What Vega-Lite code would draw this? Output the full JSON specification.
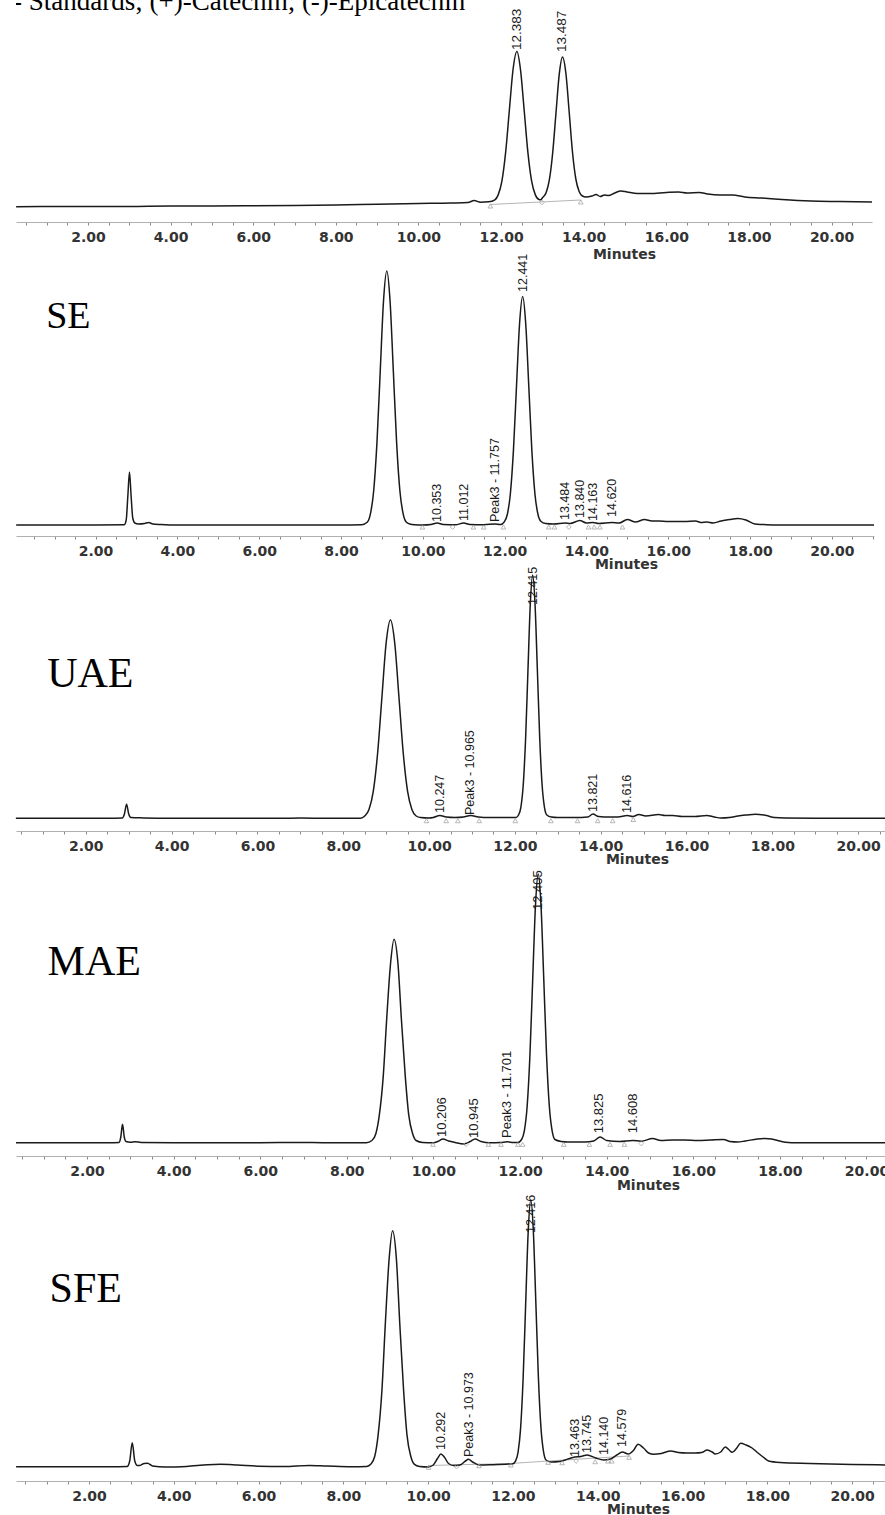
{
"$schema": "https://vega.github.io/schema/vega-lite/v6.json",
"padding": {"left": 12, "top": 0, "right": 0, "bottom": 0},
"background": "white",
"config": {"view": {"stroke": null}, "axisX": {"labelExpr": "datum.value % 2 === 0 ? format(datum.value, '.2f') : ''", "labelOverlap": false, "labelFlush": false, "grid": false, "domainColor": "#b0b0b0", "tickColor": "#8a8a8a", "tickSize": 3, "labelPadding": 5, "labelFont": "DejaVu Sans", "labelFontSize": 14, "labelFontWeight": "bold", "labelColor": "#333", "titleFont": "DejaVu Sans", "titleFontSize": 14, "titleFontWeight": "bold", "titleColor": "#333", "titleBaseline": "middle"}},
"spacing": 0,
"bounds": "flush",
"datasets": {
"p1": [{"t":0.26,"v":15.3},{"t":1.5,"v":15.5},{"t":3,"v":15.6},{"t":4,"v":16},{"t":5,"v":16},{"t":6,"v":16.2},{"t":7,"v":16.5},{"t":8,"v":17},{"t":9,"v":17.8},{"t":10,"v":18.5},{"t":10.8,"v":19},{"t":11.2,"v":19.5},{"t":11.35,"v":21.5},{"t":11.5,"v":19.8},{"t":11.7,"v":20.2},{"t":11.85,"v":22.2},{"t":11.93,"v":27.1},{"t":12.02,"v":40.8},{"t":12.11,"v":69.3},{"t":12.2,"v":111.5},{"t":12.29,"v":152.5},{"t":12.383,"v":170.5},{"t":12.47,"v":152.5},{"t":12.56,"v":111.5},{"t":12.65,"v":69.3},{"t":12.74,"v":40.8},{"t":12.83,"v":27.1},{"t":12.92,"v":22.5},{"t":12.96,"v":22.3},{"t":13.01,"v":24.6},{"t":13.09,"v":29.3},{"t":13.17,"v":42.3},{"t":13.25,"v":69.3},{"t":13.33,"v":109.3},{"t":13.41,"v":148.3},{"t":13.487,"v":165},{"t":13.57,"v":148.5},{"t":13.65,"v":109.5},{"t":13.73,"v":69.5},{"t":13.81,"v":43},{"t":13.89,"v":30.5},{"t":13.97,"v":26},{"t":14.05,"v":25},{"t":14.2,"v":26},{"t":14.3,"v":27.5},{"t":14.4,"v":25.5},{"t":14.5,"v":27},{"t":14.6,"v":26.5},{"t":14.75,"v":29},{"t":14.9,"v":31},{"t":15.05,"v":30},{"t":15.3,"v":28.5},{"t":15.6,"v":28.5},{"t":16,"v":29.5},{"t":16.3,"v":30},{"t":16.5,"v":29},{"t":16.8,"v":29.5},{"t":17,"v":28},{"t":17.3,"v":27},{"t":17.6,"v":27},{"t":17.9,"v":25},{"t":18.3,"v":24},{"t":18.8,"v":22.5},{"t":19.5,"v":21},{"t":20.2,"v":20.5},{"t":20.98,"v":20}],
"p2": [{"t":0.06,"v":11},{"t":1,"v":11},{"t":2,"v":11},{"t":2.7,"v":11.2},{"t":2.75,"v":16},{"t":2.79,"v":40},{"t":2.83,"v":64},{"t":2.87,"v":40},{"t":2.91,"v":18},{"t":2.96,"v":13},{"t":3.05,"v":12},{"t":3.2,"v":12.5},{"t":3.3,"v":13.5},{"t":3.4,"v":12},{"t":3.6,"v":11.5},{"t":4,"v":11},{"t":5,"v":11},{"t":6,"v":11},{"t":7,"v":11},{"t":8,"v":11},{"t":8.5,"v":11.2},{"t":8.64,"v":13.8},{"t":8.72,"v":22.2},{"t":8.8,"v":45.3},{"t":8.88,"v":93.6},{"t":8.96,"v":165},{"t":9.04,"v":235},{"t":9.12,"v":265},{"t":9.2,"v":235},{"t":9.28,"v":165},{"t":9.36,"v":93.6},{"t":9.44,"v":45.3},{"t":9.52,"v":22.2},{"t":9.6,"v":13.8},{"t":9.7,"v":11.8},{"t":9.8,"v":11.3},{"t":10,"v":11},{"t":10.2,"v":11.5},{"t":10.35,"v":13},{"t":10.5,"v":11.5},{"t":10.8,"v":11.2},{"t":11,"v":13},{"t":11.15,"v":11.5},{"t":11.5,"v":11.3},{"t":11.76,"v":12},{"t":11.9,"v":11.5},{"t":11.99,"v":14},{"t":12.066,"v":21.5},{"t":12.141,"v":42.3},{"t":12.216,"v":85.6},{"t":12.291,"v":150},{"t":12.366,"v":212.5},{"t":12.441,"v":239.5},{"t":12.516,"v":212.5},{"t":12.591,"v":150},{"t":12.666,"v":85.6},{"t":12.741,"v":42.3},{"t":12.816,"v":21.5},{"t":12.891,"v":14.5},{"t":13,"v":12.5},{"t":13.2,"v":12},{"t":13.48,"v":13},{"t":13.6,"v":12.5},{"t":13.84,"v":15.5},{"t":14,"v":13},{"t":14.16,"v":13.5},{"t":14.3,"v":12.5},{"t":14.62,"v":13.5},{"t":14.8,"v":13},{"t":15,"v":16.5},{"t":15.2,"v":14},{"t":15.42,"v":16.5},{"t":15.6,"v":15},{"t":15.77,"v":15},{"t":16,"v":14.5},{"t":16.4,"v":14.5},{"t":16.67,"v":15},{"t":16.8,"v":13.5},{"t":16.94,"v":14},{"t":17.1,"v":13},{"t":17.29,"v":15},{"t":17.5,"v":16.5},{"t":17.7,"v":17.5},{"t":17.9,"v":16},{"t":18.12,"v":12},{"t":18.3,"v":11.5},{"t":18.6,"v":11},{"t":19.5,"v":11},{"t":21.03,"v":11}],
"p3": [{"t":0.37,"v":12.7},{"t":1.5,"v":12.7},{"t":2.5,"v":12.7},{"t":2.85,"v":13},{"t":2.9,"v":17},{"t":2.95,"v":26.7},{"t":3,"v":17},{"t":3.05,"v":13.5},{"t":3.2,"v":13.3},{"t":3.35,"v":13},{"t":4,"v":12.7},{"t":5,"v":12.7},{"t":6,"v":12.7},{"t":7,"v":12.9},{"t":7.5,"v":12.8},{"t":8,"v":12.7},{"t":8.4,"v":12.8},{"t":8.5,"v":15},{"t":8.6,"v":21.5},{"t":8.7,"v":39.6},{"t":8.8,"v":77.2},{"t":8.9,"v":133},{"t":9,"v":188},{"t":9.1,"v":211},{"t":9.2,"v":188},{"t":9.3,"v":133},{"t":9.4,"v":77.2},{"t":9.5,"v":39.6},{"t":9.6,"v":21.5},{"t":9.7,"v":15},{"t":9.8,"v":13.5},{"t":10,"v":13},{"t":10.1,"v":13.5},{"t":10.25,"v":15.5},{"t":10.4,"v":14},{"t":10.6,"v":13.5},{"t":10.8,"v":14},{"t":10.97,"v":15.5},{"t":11.15,"v":14},{"t":11.4,"v":13.5},{"t":11.8,"v":13.5},{"t":12.03,"v":13.6},{"t":12.085,"v":16},{"t":12.14,"v":23.7},{"t":12.195,"v":46},{"t":12.25,"v":92},{"t":12.305,"v":160.5},{"t":12.36,"v":227},{"t":12.415,"v":256},{"t":12.47,"v":227},{"t":12.525,"v":160.5},{"t":12.58,"v":92},{"t":12.635,"v":46},{"t":12.69,"v":23.7},{"t":12.745,"v":16},{"t":12.85,"v":14},{"t":13,"v":13.5},{"t":13.4,"v":13.5},{"t":13.7,"v":14},{"t":13.82,"v":17},{"t":13.95,"v":14.5},{"t":14.2,"v":14},{"t":14.4,"v":14},{"t":14.62,"v":15.5},{"t":14.75,"v":14.5},{"t":14.89,"v":16.5},{"t":15.05,"v":15},{"t":15.35,"v":16.5},{"t":15.5,"v":15.5},{"t":15.68,"v":15.5},{"t":15.9,"v":14.5},{"t":16.2,"v":14.5},{"t":16.47,"v":15.5},{"t":16.65,"v":14},{"t":16.8,"v":13},{"t":17,"v":13.5},{"t":17.2,"v":15},{"t":17.4,"v":16},{"t":17.6,"v":16.8},{"t":17.86,"v":15.5},{"t":18.05,"v":13.5},{"t":18.3,"v":13},{"t":19,"v":12.8},{"t":20.72,"v":12.8}],
"p4": [{"t":0.36,"v":13.3},{"t":1.5,"v":13.3},{"t":2.5,"v":13.3},{"t":2.74,"v":13.6},{"t":2.78,"v":19},{"t":2.82,"v":31.7},{"t":2.86,"v":19},{"t":2.9,"v":14.5},{"t":3,"v":13.8},{"t":3.11,"v":14.3},{"t":3.25,"v":13.5},{"t":4,"v":13.3},{"t":5,"v":13.3},{"t":6,"v":13.3},{"t":6.9,"v":13.6},{"t":7.5,"v":13.3},{"t":8.45,"v":13.3},{"t":8.58,"v":15.5},{"t":8.67,"v":22.3},{"t":8.75,"v":40.8},{"t":8.84,"v":79.4},{"t":8.92,"v":136.8},{"t":9.01,"v":192.7},{"t":9.09,"v":216.7},{"t":9.18,"v":192.7},{"t":9.26,"v":136.8},{"t":9.35,"v":79.4},{"t":9.43,"v":40.8},{"t":9.52,"v":22.3},{"t":9.6,"v":15.5},{"t":9.75,"v":13.6},{"t":10,"v":13.3},{"t":10.1,"v":14.5},{"t":10.22,"v":17},{"t":10.35,"v":15},{"t":10.5,"v":13.5},{"t":10.7,"v":12},{"t":10.85,"v":14.5},{"t":10.96,"v":17},{"t":11.1,"v":14.5},{"t":11.3,"v":13.3},{"t":11.55,"v":13.5},{"t":11.7,"v":14.2},{"t":11.85,"v":13.5},{"t":11.95,"v":13.5},{"t":12.036,"v":16.5},{"t":12.1,"v":25.3},{"t":12.164,"v":49.7},{"t":12.228,"v":100.8},{"t":12.292,"v":176.5},{"t":12.356,"v":250.3},{"t":12.42,"v":282},{"t":12.484,"v":250.3},{"t":12.548,"v":176.5},{"t":12.612,"v":100.8},{"t":12.676,"v":49.7},{"t":12.74,"v":25.3},{"t":12.804,"v":16.5},{"t":12.95,"v":14.5},{"t":13.1,"v":14},{"t":13.5,"v":14},{"t":13.7,"v":15},{"t":13.85,"v":19},{"t":14,"v":15.5},{"t":14.3,"v":14.5},{"t":14.6,"v":15.5},{"t":14.8,"v":14.8},{"t":15.06,"v":17.5},{"t":15.25,"v":15.5},{"t":15.52,"v":16},{"t":15.8,"v":16},{"t":16.1,"v":15.5},{"t":16.4,"v":16},{"t":16.7,"v":16.5},{"t":16.85,"v":14.5},{"t":17.02,"v":14},{"t":17.2,"v":15},{"t":17.48,"v":17},{"t":17.65,"v":17.5},{"t":17.81,"v":17},{"t":18,"v":15},{"t":18.13,"v":13.8},{"t":18.4,"v":13.3},{"t":19.5,"v":13.3},{"t":20.52,"v":13.3}],
"p5": [{"t":0.28,"v":14.3},{"t":1.5,"v":14.3},{"t":2.5,"v":14.3},{"t":2.9,"v":14.5},{"t":2.96,"v":20},{"t":3.02,"v":38.3},{"t":3.08,"v":20},{"t":3.14,"v":15.5},{"t":3.2,"v":15.5},{"t":3.3,"v":17.5},{"t":3.38,"v":17.7},{"t":3.5,"v":15},{"t":3.8,"v":14},{"t":4.3,"v":14.5},{"t":4.8,"v":16.3},{"t":5.1,"v":16.7},{"t":5.5,"v":16},{"t":6,"v":14.8},{"t":6.6,"v":14.5},{"t":7.2,"v":15.5},{"t":7.6,"v":15},{"t":8.2,"v":14.3},{"t":8.55,"v":14.5},{"t":8.65,"v":16.9},{"t":8.74,"v":24.7},{"t":8.82,"v":46.2},{"t":8.91,"v":91},{"t":8.99,"v":157.6},{"t":9.08,"v":222.5},{"t":9.16,"v":250.3},{"t":9.25,"v":222.5},{"t":9.33,"v":157.6},{"t":9.42,"v":91},{"t":9.5,"v":46.2},{"t":9.59,"v":24.7},{"t":9.67,"v":16.9},{"t":9.8,"v":14.5},{"t":10,"v":14},{"t":10.12,"v":16},{"t":10.22,"v":22.5},{"t":10.3,"v":27},{"t":10.38,"v":24},{"t":10.48,"v":17.5},{"t":10.6,"v":15.5},{"t":10.75,"v":16},{"t":10.88,"v":20},{"t":10.95,"v":21.7},{"t":11.05,"v":19},{"t":11.2,"v":16},{"t":11.5,"v":16.3},{"t":11.9,"v":17},{"t":12,"v":17.3},{"t":12.06,"v":19.9},{"t":12.12,"v":28.6},{"t":12.18,"v":52.6},{"t":12.24,"v":102.8},{"t":12.3,"v":177.2},{"t":12.36,"v":249.8},{"t":12.42,"v":281},{"t":12.48,"v":250.8},{"t":12.54,"v":178.2},{"t":12.6,"v":103.8},{"t":12.66,"v":53.6},{"t":12.72,"v":29.6},{"t":12.78,"v":21},{"t":12.9,"v":19},{"t":13.1,"v":19.5},{"t":13.3,"v":22},{"t":13.46,"v":24},{"t":13.6,"v":24.5},{"t":13.75,"v":26},{"t":13.95,"v":23},{"t":14.14,"v":21},{"t":14.3,"v":22},{"t":14.45,"v":26},{"t":14.58,"v":29},{"t":14.72,"v":27},{"t":14.85,"v":31},{"t":14.95,"v":36.7},{"t":15.08,"v":33},{"t":15.2,"v":28},{"t":15.32,"v":26.7},{"t":15.5,"v":27.5},{"t":15.72,"v":30},{"t":15.9,"v":28.5},{"t":16.1,"v":28},{"t":16.3,"v":28},{"t":16.45,"v":28.5},{"t":16.58,"v":31},{"t":16.7,"v":29},{"t":16.77,"v":27},{"t":16.9,"v":29},{"t":17.01,"v":34},{"t":17.1,"v":31},{"t":17.17,"v":28.7},{"t":17.28,"v":33},{"t":17.37,"v":37.7},{"t":17.5,"v":36},{"t":17.64,"v":33},{"t":17.78,"v":28},{"t":17.9,"v":24},{"t":18.03,"v":20},{"t":18.3,"v":18.5},{"t":19,"v":17.5},{"t":20,"v":16.5},{"t":20.87,"v":16}],
"l1": [{"t":12.383,"v":172,"label":"12.383"},{"t":13.487,"v":170,"label":"13.487"}],
"l2": [{"t":10.353,"v":14,"label":"10.353"},{"t":11.012,"v":15,"label":"11.012"},{"t":11.757,"v":14,"label":"Peak3 - 11.757"},{"t":12.441,"v":244,"label":"12.441"},{"t":13.484,"v":16,"label":"13.484"},{"t":13.84,"v":18,"label":"13.840"},{"t":14.163,"v":15,"label":"14.163"},{"t":14.62,"v":19,"label":"14.620"}],
"l3": [{"t":10.247,"v":18,"label":"10.247"},{"t":10.965,"v":16,"label":"Peak3 - 10.965"},{"t":12.415,"v":226,"label":"12.415"},{"t":13.821,"v":19,"label":"13.821"},{"t":14.616,"v":18,"label":"14.616"}],
"l4": [{"t":10.206,"v":19,"label":"10.206"},{"t":10.945,"v":18,"label":"10.945"},{"t":11.701,"v":18,"label":"Peak3 - 11.701"},{"t":12.405,"v":246,"label":"12.405"},{"t":13.825,"v":22.7,"label":"13.825"},{"t":14.608,"v":22.7,"label":"14.608"}],
"l5": [{"t":10.292,"v":31,"label":"10.292"},{"t":10.973,"v":24,"label":"Peak3 - 10.973"},{"t":12.416,"v":248,"label":"12.416"},{"t":13.463,"v":24,"label":"13.463"},{"t":13.745,"v":28,"label":"13.745"},{"t":14.14,"v":26,"label":"14.140"},{"t":14.579,"v":34,"label":"14.579"}],
"m1": [{"t":11.74,"v":16,"k":"edge"},{"t":12.99,"v":19.5,"k":"valley"},{"t":13.93,"v":20,"k":"edge"}],
"m2": [{"t":9.99,"v":9,"k":"edge"},{"t":10.73,"v":9,"k":"valley"},{"t":11.24,"v":9,"k":"edge"},{"t":11.49,"v":9,"k":"edge"},{"t":11.97,"v":9,"k":"edge"},{"t":13.08,"v":9,"k":"edge"},{"t":13.22,"v":9,"k":"edge"},{"t":13.57,"v":9,"k":"valley"},{"t":14.05,"v":9,"k":"edge"},{"t":14.19,"v":9,"k":"edge"},{"t":14.33,"v":9,"k":"edge"},{"t":14.88,"v":9,"k":"edge"}],
"m3": [{"t":9.94,"v":10.3,"k":"edge"},{"t":10.4,"v":10.3,"k":"edge"},{"t":10.67,"v":10.3,"k":"edge"},{"t":11.17,"v":10.3,"k":"edge"},{"t":12.01,"v":10.3,"k":"edge"},{"t":12.84,"v":10.3,"k":"edge"},{"t":13.46,"v":10.3,"k":"edge"},{"t":13.93,"v":10.3,"k":"edge"},{"t":14.28,"v":10.3,"k":"edge"},{"t":14.76,"v":11.5,"k":"edge"}],
"m4": [{"t":9.99,"v":11.7,"k":"edge"},{"t":10.75,"v":11.7,"k":"valley"},{"t":11.27,"v":11.7,"k":"edge"},{"t":11.56,"v":11.7,"k":"edge"},{"t":11.95,"v":11.7,"k":"edge"},{"t":12.06,"v":11.7,"k":"edge"},{"t":13.01,"v":11.7,"k":"edge"},{"t":13.6,"v":11.7,"k":"edge"},{"t":14.08,"v":11.7,"k":"edge"},{"t":14.41,"v":11.7,"k":"edge"},{"t":14.8,"v":12.5,"k":"valley"}],
"m5": [{"t":10.01,"v":13.7,"k":"edge"},{"t":10.67,"v":14.3,"k":"valley"},{"t":11.2,"v":15.3,"k":"edge"},{"t":11.95,"v":16,"k":"edge"},{"t":12.83,"v":18.7,"k":"edge"},{"t":13.16,"v":18.3,"k":"edge"},{"t":13.49,"v":20,"k":"valley"},{"t":13.94,"v":19.3,"k":"edge"},{"t":14.24,"v":20,"k":"edge"},{"t":14.33,"v":20,"k":"edge"},{"t":14.74,"v":23.7,"k":"edge"}],
"b1": [{"t":11.74,"v":17.5},{"t":13.93,"v":22}],
"b5": [{"t":10.01,"v":15.5},{"t":11.95,"v":17.5},{"t":12.83,"v":20},{"t":14.74,"v":25}]
},
"vconcat": [
{
"width": 856, "height": 222,
"encoding": {
"x": {"field": "t", "type": "quantitative", "scale": {"domain": [0.257, 20.98], "nice": false, "zero": false},
"axis": {"title": "Minutes", "values": [0.5,1,1.5,2,2.5,3,3.5,4,4.5,5,5.5,6,6.5,7,7.5,8,8.5,9,9.5,10,10.5,11,11.5,12,12.5,13,13.5,14,14.5,15,15.5,16,16.5,17,17.5,18,18.5,19,19.5,20,20.5], "titleX": 608, "titleY": 32}},
"y": {"field": "v", "type": "quantitative", "scale": {"domain": [0, 222], "nice": false, "zero": false}, "axis": null}
},
"layer": [
{"data": {"name": "b1"}, "mark": {"type": "line", "color": "#b5b5b5", "strokeWidth": 1}},
{"data": {"name": "p1"}, "mark": {"type": "line", "interpolate": "monotone", "color": "#1a1a1a", "strokeWidth": 1.5}},
{"data": {"name": "m1"}, "mark": {"type": "point", "filled": false, "color": "#9a9a9a", "size": 22, "strokeWidth": 1}, "encoding": {"shape": {"field": "k", "type": "nominal", "scale": {"domain": ["edge", "valley"], "range": ["triangle-up", "diamond"]}, "legend": null}}},
{"data": {"name": "l1"}, "mark": {"type": "text", "angle": 270, "align": "left", "baseline": "middle", "font": "Liberation Sans", "fontSize": 13.5, "color": "#1a1a1a"}, "encoding": {"text": {"field": "label"}}},
{"data": {"values": [{"t": 0.184, "v": 212, "label": "- Standards; (+)-Catechin; (-)-Epicatechin"}]}, "mark": {"type": "text", "align": "left", "baseline": "alphabetic", "font": "Liberation Serif", "fontSize": 27, "color": "#000", "clip": true}, "encoding": {"text": {"field": "label"}}}
]
},
{
"width": 858, "height": 314,
"encoding": {
"x": {"field": "t", "type": "quantitative", "scale": {"domain": [0.056, 21.03], "nice": false, "zero": false},
"axis": {"title": "Minutes", "values": [0.5,1,1.5,2,2.5,3,3.5,4,4.5,5,5.5,6,6.5,7,7.5,8,8.5,9,9.5,10,10.5,11,11.5,12,12.5,13,13.5,14,14.5,15,15.5,16,16.5,17,17.5,18,18.5,19,19.5,20,20.5,21], "titleX": 610, "titleY": 28}},
"y": {"field": "v", "type": "quantitative", "scale": {"domain": [0, 314], "nice": false, "zero": false}, "axis": null}
},
"layer": [
{"data": {"name": "p2"}, "mark": {"type": "line", "interpolate": "monotone", "color": "#1a1a1a", "strokeWidth": 1.5}},
{"data": {"name": "m2"}, "mark": {"type": "point", "filled": false, "color": "#9a9a9a", "size": 22, "strokeWidth": 1}, "encoding": {"shape": {"field": "k", "type": "nominal", "scale": {"domain": ["edge", "valley"], "range": ["triangle-up", "diamond"]}, "legend": null}}},
{"data": {"name": "l2"}, "mark": {"type": "text", "angle": 270, "align": "left", "baseline": "middle", "font": "Liberation Sans", "fontSize": 12.5, "color": "#1a1a1a"}, "encoding": {"text": {"field": "label"}}},
{"data": {"values": [{"t": 0.795, "v": 208, "label": "SE"}]}, "mark": {"type": "text", "align": "left", "baseline": "alphabetic", "font": "Liberation Serif", "fontSize": 38, "color": "#000"}, "encoding": {"text": {"field": "label"}}}
]
},
{
"width": 873, "height": 295,
"encoding": {
"x": {"field": "t", "type": "quantitative", "scale": {"domain": [0.373, 20.72], "nice": false, "zero": false},
"axis": {"title": "Minutes", "values": [0.5,1,1.5,2,2.5,3,3.5,4,4.5,5,5.5,6,6.5,7,7.5,8,8.5,9,9.5,10,10.5,11,11.5,12,12.5,13,13.5,14,14.5,15,15.5,16,16.5,17,17.5,18,18.5,19,19.5,20,20.5], "titleX": 621, "titleY": 28}},
"y": {"field": "v", "type": "quantitative", "scale": {"domain": [0, 295], "nice": false, "zero": false}, "axis": null}
},
"layer": [
{"data": {"name": "p3"}, "mark": {"type": "line", "interpolate": "monotone", "color": "#1a1a1a", "strokeWidth": 1.5}},
{"data": {"name": "m3"}, "mark": {"type": "point", "filled": false, "color": "#9a9a9a", "size": 22, "strokeWidth": 1}, "encoding": {"shape": {"field": "k", "type": "nominal", "scale": {"domain": ["edge", "valley"], "range": ["triangle-up", "diamond"]}, "legend": null}}},
{"data": {"name": "l3"}, "mark": {"type": "text", "angle": 270, "align": "left", "baseline": "middle", "font": "Liberation Sans", "fontSize": 12.5, "color": "#1a1a1a"}, "encoding": {"text": {"field": "label"}}},
{"data": {"values": [{"t": 1.1, "v": 144, "label": "UAE"}]}, "mark": {"type": "text", "align": "left", "baseline": "alphabetic", "font": "Liberation Serif", "fontSize": 42, "color": "#000"}, "encoding": {"text": {"field": "label"}}}
]
},
{
"width": 873, "height": 325,
"encoding": {
"x": {"field": "t", "type": "quantitative", "scale": {"domain": [0.36, 20.52], "nice": false, "zero": false},
"axis": {"title": "Minutes", "values": [0.5,1,1.5,2,2.5,3,3.5,4,4.5,5,5.5,6,6.5,7,7.5,8,8.5,9,9.5,10,10.5,11,11.5,12,12.5,13,13.5,14,14.5,15,15.5,16,16.5,17,17.5,18,18.5,19,19.5,20,20.5], "titleX": 632, "titleY": 29}},
"y": {"field": "v", "type": "quantitative", "scale": {"domain": [0, 325], "nice": false, "zero": false}, "axis": null}
},
"layer": [
{"data": {"name": "p4"}, "mark": {"type": "line", "interpolate": "monotone", "color": "#1a1a1a", "strokeWidth": 1.5}},
{"data": {"name": "m4"}, "mark": {"type": "point", "filled": false, "color": "#9a9a9a", "size": 22, "strokeWidth": 1}, "encoding": {"shape": {"field": "k", "type": "nominal", "scale": {"domain": ["edge", "valley"], "range": ["triangle-up", "diamond"]}, "legend": null}}},
{"data": {"name": "l4"}, "mark": {"type": "text", "angle": 270, "align": "left", "baseline": "middle", "font": "Liberation Sans", "fontSize": 13, "color": "#1a1a1a"}, "encoding": {"text": {"field": "label"}}},
{"data": {"values": [{"t": 1.09, "v": 181, "label": "MAE"}]}, "mark": {"type": "text", "align": "left", "baseline": "alphabetic", "font": "Liberation Serif", "fontSize": 42, "color": "#000"}, "encoding": {"text": {"field": "label"}}}
]
},
{
"width": 873, "height": 325,
"encoding": {
"x": {"field": "t", "type": "quantitative", "scale": {"domain": [0.278, 20.87], "nice": false, "zero": false},
"axis": {"title": "Minutes", "values": [0.5,1,1.5,2,2.5,3,3.5,4,4.5,5,5.5,6,6.5,7,7.5,8,8.5,9,9.5,10,10.5,11,11.5,12,12.5,13,13.5,14,14.5,15,15.5,16,16.5,17,17.5,18,18.5,19,19.5,20,20.5], "titleX": 622, "titleY": 28}},
"y": {"field": "v", "type": "quantitative", "scale": {"domain": [0, 325], "nice": false, "zero": false}, "axis": null}
},
"layer": [
{"data": {"name": "b5"}, "mark": {"type": "line", "color": "#b5b5b5", "strokeWidth": 1}},
{"data": {"name": "p5"}, "mark": {"type": "line", "interpolate": "monotone", "color": "#1a1a1a", "strokeWidth": 1.5}},
{"data": {"name": "m5"}, "mark": {"type": "point", "filled": false, "color": "#9a9a9a", "size": 22, "strokeWidth": 1}, "encoding": {"shape": {"field": "k", "type": "nominal", "scale": {"domain": ["edge", "valley"], "range": ["triangle-up", "diamond"]}, "legend": null}}},
{"data": {"name": "l5"}, "mark": {"type": "text", "angle": 270, "align": "left", "baseline": "middle", "font": "Liberation Sans", "fontSize": 12.5, "color": "#1a1a1a"}, "encoding": {"text": {"field": "label"}}},
{"data": {"values": [{"t": 1.07, "v": 179, "label": "SFE"}]}, "mark": {"type": "text", "align": "left", "baseline": "alphabetic", "font": "Liberation Serif", "fontSize": 42, "color": "#000"}, "encoding": {"text": {"field": "label"}}}
]
}
]
}
